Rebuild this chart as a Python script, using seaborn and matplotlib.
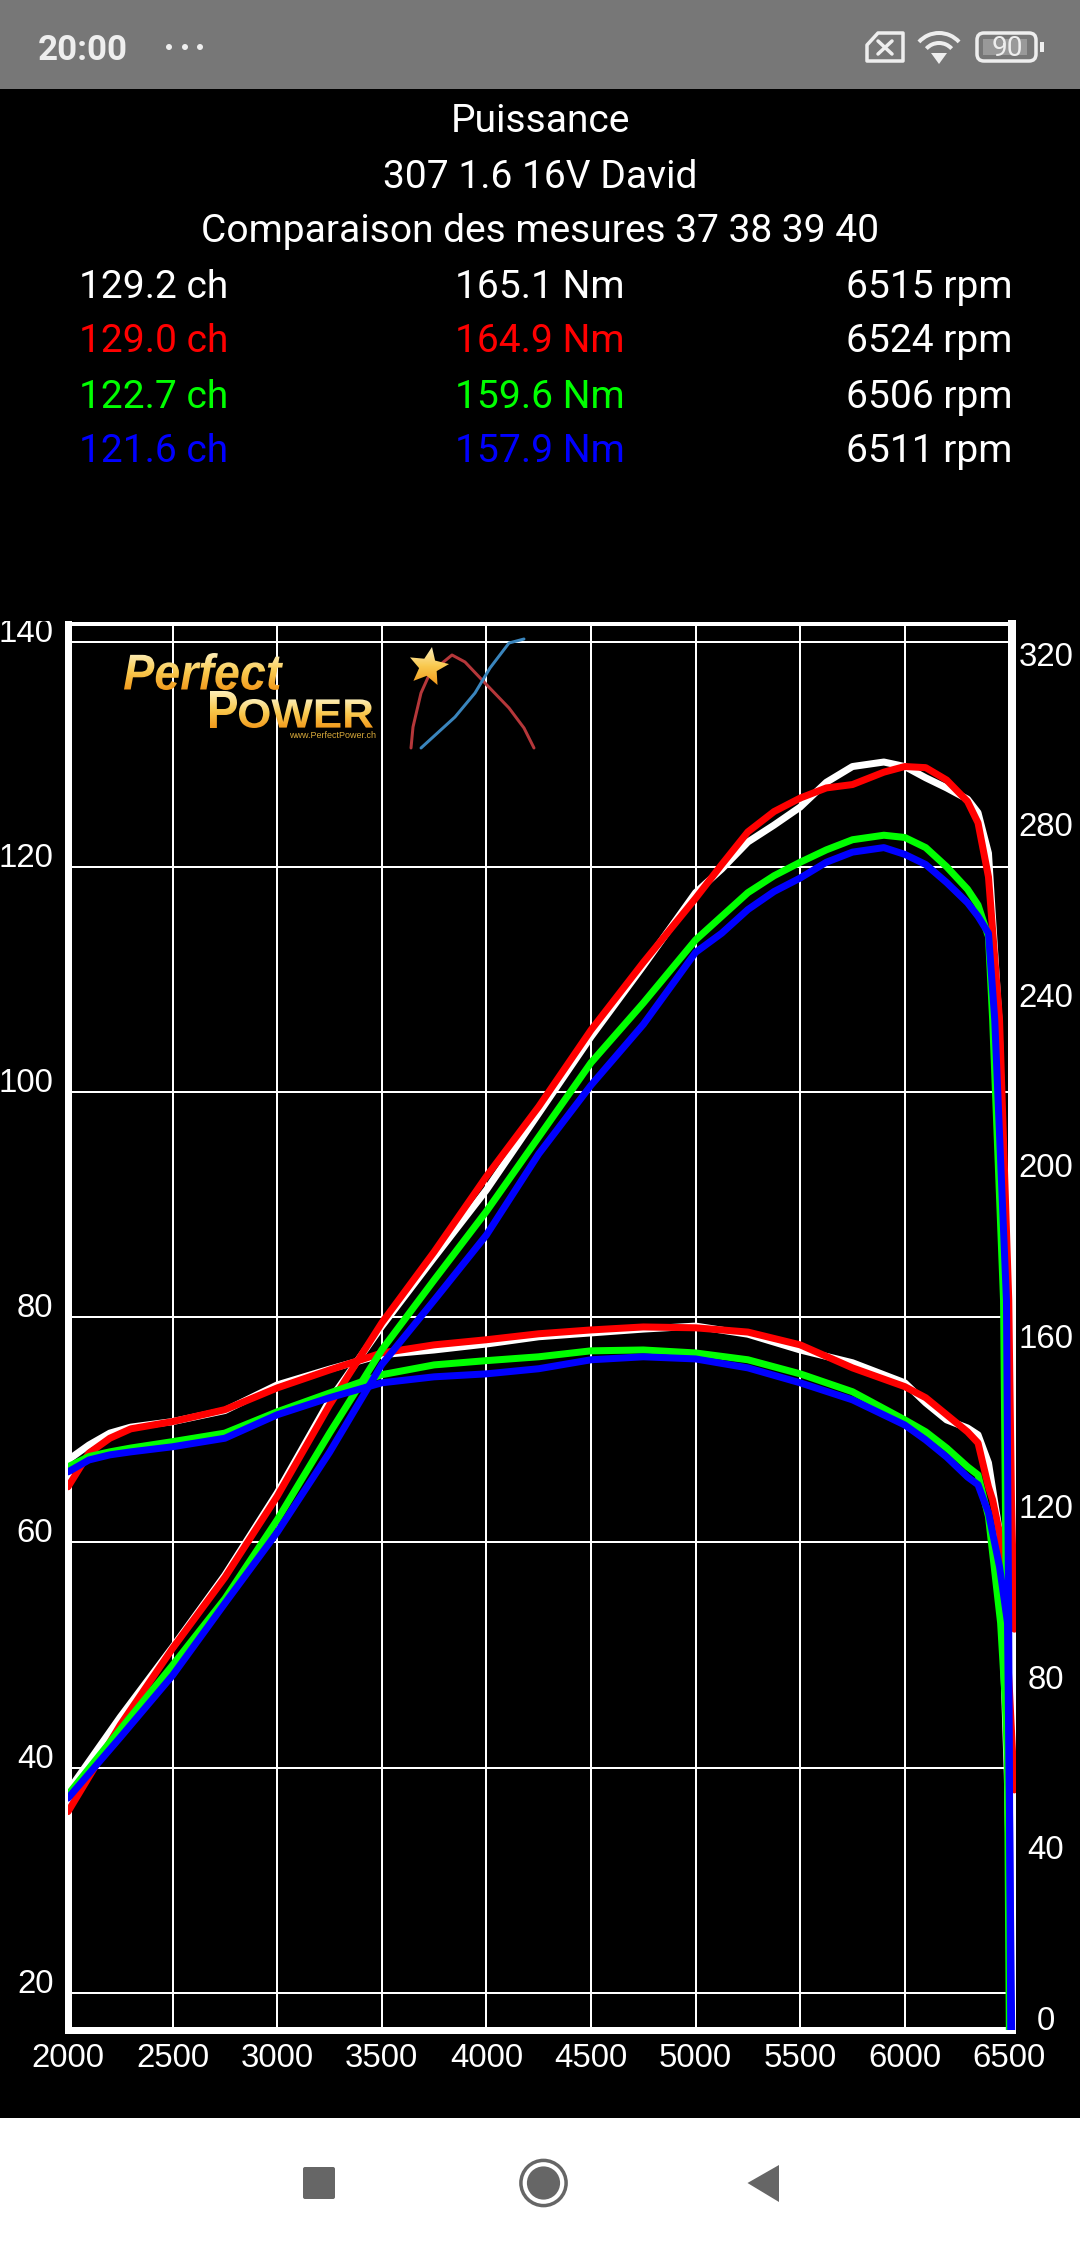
import matplotlib
matplotlib.use('Agg')
import matplotlib.pyplot as plt
import numpy as np
import seaborn as sns
from matplotlib.colors import LinearSegmentedColormap
from matplotlib.patches import Arc, Circle, FancyBboxPatch, PathPatch, Polygon, Rectangle
from matplotlib.path import Path
from matplotlib.textpath import TextPath
from matplotlib.font_manager import FontProperties
from matplotlib.transforms import Affine2D, Bbox

# ------------------------ data ------------------------
rpm_ch = [2000, 2250, 2500, 2750, 3000, 3250, 3500, 3750, 4000, 4250, 4500, 4750,
          5000, 5125, 5250, 5375, 5500, 5625, 5750, 5900, 6000, 6100, 6200, 6300, 6350, 6400]
white_ch = [37.9, 44.5, 50.7, 57.1, 64.4, 72.6, 79.2, 85.3, 91.3, 98.1, 104.9, 111.2,
            117.7, 119.8, 122.2, 123.7, 125.3, 127.5, 128.9, 129.3, 128.9, 127.9, 127.0, 126.0, 124.8, 121.2]
red_ch = [36.1, 43.8, 50.6, 56.9, 64.1, 72.2, 79.5, 85.8, 92.5, 98.7, 105.5, 111.5,
          117.2, 120.2, 123.1, 124.9, 126.1, 127.0, 127.3, 128.4, 128.9, 128.8, 127.7, 125.8, 123.9, 119.1]
green_ch = [37.6, 43.4, 49.1, 55.0, 62.0, 69.7, 77.1, 83.3, 89.4, 96.0, 102.6, 107.9,
            113.5, 115.6, 117.7, 119.2, 120.4, 121.5, 122.4, 122.8, 122.6, 121.7, 120.0, 118.0, 116.6, 113.8]
blue_ch = [37.3, 42.7, 48.2, 54.6, 60.9, 68.0, 75.8, 81.5, 87.3, 94.5, 100.6, 106.0,
           112.4, 114.1, 116.2, 117.8, 119.0, 120.4, 121.3, 121.7, 121.1, 120.2, 118.6, 116.8, 115.6, 114.1]
# the drop at the end of each run
white_ch_end = ([6450, 6490, 6505, 6515], [106.4, 81.5, 40, 0])
red_ch_end = ([6453, 6497, 6510, 6524], [106.4, 81.5, 63.8, 52.3])
green_ch_end = ([6420, 6472, 6485, 6506], [106.4, 81.5, 54.9, 0])
blue_ch_end = ([6430, 6486, 6496, 6511], [106.4, 81.5, 54.9, 0])

rpm_nm = [2000, 2100, 2200, 2300, 2500, 2750, 3000, 3250, 3500, 3750, 4000, 4250,
          4500, 4750, 5000, 5250, 5500, 5750, 6000, 6100, 6200, 6300, 6350, 6400]
white_nm = [133.7, 137.2, 140.0, 141.4, 142.7, 145.3, 151.3, 155.0, 158.4, 159.5, 160.9, 162.6,
            163.5, 164.4, 165.1, 163.2, 159.5, 156.5, 151.8, 147.1, 143.1, 141.2, 139.6, 133.0]
red_nm = [127.4, 135.3, 138.8, 141.0, 142.7, 145.5, 150.6, 154.8, 158.8, 160.7, 161.9, 163.3,
          164.2, 164.9, 164.7, 163.7, 160.7, 155.3, 150.9, 148.3, 144.3, 140.3, 137.7, 127.4]
green_nm = [132.1, 134.5, 135.6, 136.5, 138.0, 140.0, 145.0, 149.4, 153.7, 156.0, 157.0, 157.9,
            159.3, 159.5, 158.8, 157.2, 153.9, 149.7, 143.1, 140.3, 136.5, 132.1, 130.2, 120.4]
blue_nm = [130.9, 133.7, 134.9, 135.6, 136.8, 138.8, 144.3, 148.3, 151.8, 153.2, 153.9, 155.1,
           157.2, 157.9, 157.4, 155.3, 151.8, 147.8, 141.9, 138.4, 134.4, 129.7, 127.9, 121.3]
white_nm_end = ([6453, 6490, 6515], [116.6, 60, 0])
red_nm_end = ([6420, 6453, 6467, 6500, 6524], [124.3, 116.6, 108.6, 80, 56.3])
green_nm_end = ([6458, 6481, 6496, 6500, 6506], [95.5, 76.5, 56.8, 37.8, 0])
blue_nm_end = ([6453, 6491, 6500, 6511], [108.6, 95.5, 53.5, 0])

x_ticks = [2000, 2500, 3000, 3500, 4000, 4500, 5000, 5500, 6000, 6500]
left_ticks = [20, 40, 60, 80, 100, 120, 140]
right_ticks = [0, 40, 80, 120, 160, 200, 240, 280, 320]

title_lines = ['Puissance', '307 1.6 16V David', 'Comparaison des mesures 37 38 39 40']
peak_ch = ['129.2 ch', '129.0 ch', '122.7 ch', '121.6 ch']
peak_nm = ['165.1 Nm', '164.9 Nm', '159.6 Nm', '157.9 Nm']
peak_rpm = ['6515 rpm', '6524 rpm', '6506 rpm', '6511 rpm']
run_colors = ['#ffffff', '#ff0000', '#00ff00', '#0000ff']

# small curves of the logo, in screen pixels
logo_red_x = [411, 413, 421, 430, 452, 465, 484, 509, 524, 534]
logo_red_y = [748, 727, 693, 673, 655, 662, 682, 708, 728, 748]
logo_blue_x = [421, 455, 475, 490, 509, 524]
logo_blue_y = [748, 717, 693, 668, 643, 639]

W, H = 1080, 2248


def fy(y):
    return H - y


def px(n):
    return n * 0.72


def nm_to_ch(nm):
    return 16.714 + 0.37855 * np.asarray(nm, dtype=float)


def ch_to_nm(ch):
    return (np.asarray(ch, dtype=float) - 16.714) / 0.37855


sns.set_style('white', rc={'axes.facecolor': 'black', 'figure.facecolor': 'black'})
plt.rcParams['font.family'] = ['Liberation Sans', 'DejaVu Sans']

fig = plt.figure(figsize=(W / 100, H / 100), dpi=100, facecolor='black')

# ------------------------ main chart ------------------------
ax = fig.add_axes([67.5 / W, (H - 2030) / H, (1016 - 67.5) / W, (2030 - 623.5) / H])
ax.set_facecolor('black')

lw = px(7)
runs = [
    ('#ffffff', white_ch, white_ch_end, white_nm, white_nm_end),
    ('#ff0000', red_ch, red_ch_end, red_nm, red_nm_end),
    ('#00ff00', green_ch, green_ch_end, green_nm, green_nm_end),
    ('#0000ff', blue_ch, blue_ch_end, blue_nm, blue_nm_end),
]
for color, ch, ch_end, nm, nm_end in runs:
    sns.lineplot(x=rpm_ch + ch_end[0], y=ch + ch_end[1], color=color, linewidth=lw,
                 errorbar=None, ax=ax, zorder=3)
    sns.lineplot(x=rpm_nm + nm_end[0], y=nm_to_ch(nm + nm_end[1]), color=color, linewidth=lw,
                 errorbar=None, ax=ax, zorder=3)

ax.set_xlim(1997.6, 6531.6)
ax.set_ylim(16.71, 141.6)
ax.set_xlabel('')
ax.set_ylabel('')

for name in ['left', 'right', 'top', 'bottom']:
    ax.spines[name].set_color('white')
    ax.spines[name].set_visible(True)
ax.spines['left'].set_linewidth(px(7))
ax.spines['bottom'].set_linewidth(px(7))
ax.spines['right'].set_linewidth(px(8))
ax.spines['top'].set_linewidth(px(4))
ax.spines['right'].set_position(('data', 6512))
ax.spines['bottom'].set_bounds(1997.6, 6500)
ax.spines['top'].set_bounds(1997.6, 6512)

# set_position resets the ticks, so the tick styling has to come after it
ax.set_axisbelow(True)
ax.grid(True, color='white', linewidth=px(2))
ax.set_xticks(x_ticks)
ax.set_yticks(left_ticks)
ax.tick_params(axis='x', length=0, pad=px(13), labelsize=px(33), colors='white')
ax.tick_params(axis='y', length=0, pad=px(14), labelsize=px(33), colors='white')
for lab in ax.get_yticklabels():
    lab.set_verticalalignment('baseline')
    # the top label is cut off by the edge of the app's view
    lab.set_clip_on(True)
    lab.set_clip_box(Bbox([[0, 0], [W, H - 621]]))

sec = ax.secondary_yaxis('right', functions=(ch_to_nm, nm_to_ch))
sec.set_yticks(right_ticks)
sec.tick_params(axis='y', length=0, pad=px(30), labelsize=px(33), colors='white')
for lab in sec.get_yticklabels():
    lab.set_horizontalalignment('center')
    lab.set_verticalalignment('baseline')
for s in sec.spines.values():
    s.set_visible(False)

# ------------------------ screen furniture, in pixels ------------------------
top = fig.add_axes([0, 0, 1, 1], facecolor='none', zorder=5)
top.set_xlim(0, W)
top.set_ylim(0, H)
top.axis('off')

top.add_patch(Rectangle((0, fy(89)), W, 89, color='#777777', lw=0))
top.add_patch(Rectangle((0, 0), W, fy(2118), color='white', lw=0))

top.text(38, fy(60), '20:00', color='#eeeeee', fontsize=px(35), family='Roboto',
         fontweight='bold', ha='left', va='baseline')
for dx in [169, 185, 200]:
    top.add_patch(Circle((dx, fy(47)), 3, color='#eeeeee', lw=0))

icon = '#eeeeee'
sim = [(878, fy(33)), (903, fy(33)), (903, fy(61)), (867, fy(61)), (867, fy(45))]
top.add_patch(Polygon(sim, closed=True, fill=False, ec=icon, lw=px(3.5), joinstyle='round'))
top.plot([878, 892], [fy(41), fy(54)], color=icon, lw=px(3.5))
top.plot([878, 892], [fy(54), fy(41)], color=icon, lw=px(3.5))

for r in [27, 17]:
    top.add_patch(Arc((939, fy(60)), 2 * r, 2 * r, theta1=42, theta2=138, color=icon, lw=px(4)))
top.add_patch(Polygon([(931, fy(53)), (947, fy(53)), (939, fy(64))], closed=True, color=icon, lw=0))

top.add_patch(FancyBboxPatch((980, fy(58)), 53, 22, boxstyle='round,pad=3,rounding_size=7',
                             fill=False, ec=icon, lw=px(3.5)))
top.add_patch(Rectangle((983, fy(55)), 44, 16, color='#999999', lw=0))
top.text(1007, fy(49), '90', color=icon, fontsize=px(28), family='Roboto', ha='center', va='center')
top.add_patch(Rectangle((1040, fy(52)), 4, 10, color=icon, lw=0))

# header
for text, y in zip(title_lines, [121, 177, 232]):
    top.text(540, fy(y), text, color='white', fontsize=px(39), family='Roboto', ha='center', va='center')
for i, y in enumerate([287, 342, 397, 452]):
    top.text(79, fy(y), peak_ch[i], color=run_colors[i], fontsize=px(39), family='Roboto', va='center')
    top.text(540, fy(y), peak_nm[i], color=run_colors[i], fontsize=px(39), family='Roboto', ha='center', va='center')
    top.text(846, fy(y), peak_rpm[i], color='white', fontsize=px(39), family='Roboto', va='center')

# logo
gold = LinearSegmentedColormap.from_list('gold', ['#fdeeb8', '#f9c94f', '#f29a1c'])
grad = np.linspace(0, 1, 64).reshape(-1, 1)


def gold_path(path, x0, x1, y0, y1):
    bb = path.get_extents()
    t = Affine2D().translate(-bb.x0, -bb.y0).scale((x1 - x0) / bb.width, (y1 - y0) / bb.height)
    t = t.translate(x0, fy(y1))
    placed = path.transformed(t)
    patch = PathPatch(placed, fc='none', ec='none')
    top.add_patch(patch)
    im = top.imshow(grad, cmap=gold, extent=(x0, x1, fy(y1), fy(y0)), aspect='auto', zorder=4)
    im.set_clip_path(patch)


logo_italic = FontProperties(family='Liberation Sans', style='italic', weight='bold')
logo_bold = FontProperties(family='Liberation Sans', weight='bold')
gold_path(TextPath((0, 0), 'Perfect', size=40, prop=logo_italic), 124, 283, 653, 690)
gold_path(TextPath((0, 0), 'P', size=40, prop=logo_bold), 210, 237, 691, 728)
gold_path(TextPath((0, 0), 'OWER', size=40, prop=logo_bold), 239, 373, 699, 728)
star = Path.unit_regular_star(5, 0.45).transformed(Affine2D().rotate_deg(-10))
gold_path(star, 410, 449, 647, 685)
top.set_xlim(0, W)
top.set_ylim(0, H)
top.text(333, fy(735), 'www.PerfectPower.ch', color='#d8a93a', fontsize=px(9), ha='center', va='center')
top.plot(logo_red_x, [fy(v) for v in logo_red_y], color='#b5373a', lw=px(3), zorder=3)
top.plot(logo_blue_x, [fy(v) for v in logo_blue_y], color='#3a85bd', lw=px(3), zorder=3)

# android nav bar
nav = '#666666'
top.add_patch(FancyBboxPatch((305, fy(2197)), 28, 28, boxstyle='round,pad=2,rounding_size=2', color=nav, lw=0))
top.add_patch(Circle((543.5, fy(2183)), 22.6, fill=False, ec=nav, lw=px(3.5)))
top.add_patch(Circle((543.5, fy(2183)), 16.6, color=nav, lw=0))
top.add_patch(Polygon([(747.5, fy(2183)), (779, fy(2165)), (779, fy(2202))], closed=True, color=nav, lw=0, joinstyle='round'))

fig.savefig('out.png', dpi=100, facecolor='black')
